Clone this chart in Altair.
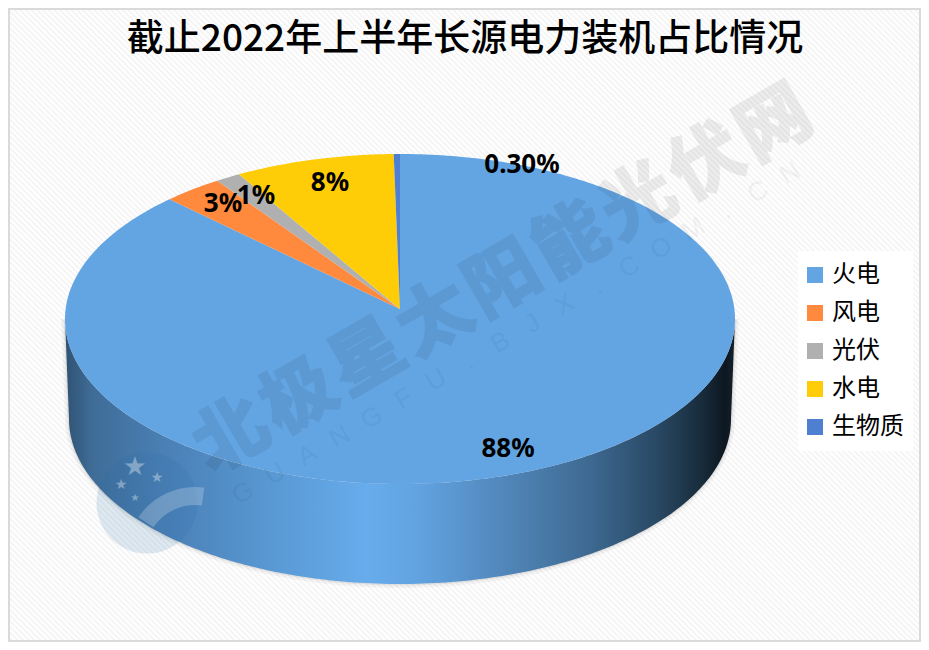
import math
import altair as alt

categories = ["火电", "风电", "光伏", "水电", "生物质"]
values = [88.1, 2.9, 1.2, 7.7, 0.3]
colors = ["#63A5E3", "#FF893C", "#B0B0B0", "#FFCC08", "#4E7FD0"]
label_texts = ["88%", "3%", "1%", "8%", "0.30%"]
title_text = "截止2022年上半年长源电力装机占比情况"
watermark_main = "北极星太阳能光伏网"
watermark_sub = "GUANGFU.BJX.COM.CN"

W, H = 913, 634
OFF = 8  # page margin
A, B = 335.0, 165.0
CX, CY = 400.0, 319.0
DEPTH = 100.0
A2 = 331.0


def feature(name, pts):
    ring = [[round(x, 5), round(y, 5)] for x, y in pts]
    if ring[0] != ring[-1]:
        ring.append(ring[0])
    return {"type": "Feature", "properties": {"name": name},
            "geometry": {"type": "Polygon", "coordinates": [ring]}}


def rim(t):
    return (math.sin(t), -math.cos(t) * B / A)


total = sum(values)
apex = (0.0, -10.0 / A)
slices = []
acc = 0.0
for name, v in zip(categories, values):
    t0 = acc / total * 2 * math.pi
    acc += v
    t1 = acc / total * 2 * math.pi
    n = max(2, int(v * 4))
    slices.append(feature(name, [apex] + [rim(t0 + (t1 - t0) * i / n) for i in range(n + 1)]))

side_pts = []
for i in range(181):
    t = math.radians(90 + i)
    side_pts.append(rim(t))
side_pts = side_pts[::-1]
for i in range(181):
    t = math.radians(90 + i)
    side_pts.append((math.sin(t) * A2 / A, -math.cos(t) * B / A + DEPTH / A))
side = [feature("side", side_pts)]

PROJ = dict(type="identity", scale=A, translate=[CX - OFF, CY - OFF])

# background hatch
hatch_rows = []
period = 5.7
x = -float(H)
while x < W:
    hatch_rows.append({"x": x, "x2": x + H, "y": 0, "y2": H})
    x += period
ax = alt.X("x:Q", scale=None, axis=None)
ay = alt.Y("y:Q", scale=None, axis=None)
hatch = alt.Chart(alt.Data(values=hatch_rows)).mark_rule(
    color="#F5F5F5", strokeWidth=2, clip=True
).encode(x=ax, x2="x2:Q", y=ay, y2="y2:Q")

# frame along the drawable edge
border_rows = [
    {"x": W - 1, "x2": W - 1, "y": 0, "y2": H},
    {"x": 0, "x2": W, "y": H - 1, "y2": H - 1},
    {"x": 1, "x2": 1, "y": 0, "y2": H},
    {"x": 0, "x2": W, "y": 1, "y2": 1},
]
border = alt.Chart(alt.Data(values=border_rows)).mark_rule(
    color="#DADADA", strokeWidth=2
).encode(x=ax, x2="x2:Q", y=ay, y2="y2:Q")

side_grad = alt.LinearGradient(
    gradient="linear", x1=0, x2=1, y1=0, y2=0,
    stops=[
        alt.GradientStop(offset=0.0, color="#2F5272"),
        alt.GradientStop(offset=0.04, color="#3F6C97"),
        alt.GradientStop(offset=0.15, color="#4A80B5"),
        alt.GradientStop(offset=0.3, color="#5897D2"),
        alt.GradientStop(offset=0.45, color="#67ACEC"),
        alt.GradientStop(offset=0.52, color="#62A4E2"),
        alt.GradientStop(offset=0.65, color="#5288BC"),
        alt.GradientStop(offset=0.78, color="#3E6A92"),
        alt.GradientStop(offset=0.88, color="#2A4A66"),
        alt.GradientStop(offset=0.95, color="#182C3C"),
        alt.GradientStop(offset=0.985, color="#0C1720"),
        alt.GradientStop(offset=1.0, color="#14222E"),
    ],
)
shadow1 = alt.Chart(alt.Data(values=side)).mark_geoshape(
    fill="#000000", fillOpacity=0.0, stroke="#000000", strokeOpacity=0.04, strokeWidth=8
).project(**PROJ)
shadow2 = alt.Chart(alt.Data(values=side)).mark_geoshape(
    fill="#000000", fillOpacity=0.0, stroke="#000000", strokeOpacity=0.07, strokeWidth=3
).project(**PROJ)
side_layer = alt.Chart(alt.Data(values=side)).mark_geoshape(
    fill=side_grad, strokeWidth=0
).project(**PROJ)

pie = alt.Chart(alt.Data(values=slices)).mark_geoshape(strokeWidth=0).encode(
    color=alt.Color(
        "properties.name:N",
        scale=alt.Scale(domain=categories, range=colors),
        sort=categories,
        legend=alt.Legend(
            title=None, orient="none", legendX=790, legendY=243,
            symbolType="square", symbolSize=256, symbolStrokeWidth=0, symbolOffset=-4,
            labelFont="Noto Sans CJK SC", labelFontSize=24, labelColor="#000000",
            labelOffset=5, rowPadding=8, symbolOpacity=1,
            fillColor="#FFFFFF", padding=9, labelLimit=200, clipHeight=30,
        ),
    )
).project(**PROJ)

# watermark
wm_rows = []
n = len(watermark_main)
x0, y0, x1, y1 = 232.0, 437.0, 775.0, 125.0
for i, ch in enumerate(watermark_main):
    f = i / (n - 1)
    wm_rows.append({"x": x0 + (x1 - x0) * f - OFF, "y": y0 + (y1 - y0) * f - OFF, "t": ch})
wm = alt.Chart(alt.Data(values=wm_rows)).mark_text(
    font="Noto Sans CJK SC", fontWeight="bold", fontSize=72, angle=330, opacity=0.065,
    color="#000000", stroke="#000000", strokeWidth=3, align="center", baseline="middle"
).encode(x=ax, y=ay, text="t:N")

sub_rows = []
m = len(watermark_sub)
for i, ch in enumerate(watermark_sub):
    f = i / (m - 1)
    sx = 243 + (790 - 243) * f
    sub_rows.append({"x": sx - OFF, "y": 493 - (sx - 243) * 0.585 - OFF, "t": ch})
wm2 = alt.Chart(alt.Data(values=sub_rows)).mark_text(
    font="Liberation Sans", fontSize=26, angle=330, opacity=0.04,
    color="#000000", align="center", baseline="middle"
).encode(x=ax, y=ay, text="t:N")

# logo
logo_rows = [{"x": 147 - OFF, "y": 503 - OFF}]
logo = alt.Chart(alt.Data(values=logo_rows)).mark_point(
    filled=True, shape="circle", size=10200, color="#2B6CA8", opacity=0.15
).encode(x=ax, y=ay)
swoosh_rows = [{"x": 195 - OFF, "y": 555 - OFF}]
swoosh = alt.Chart(alt.Data(values=swoosh_rows)).mark_arc(
    theta=5.3, theta2=6.42, innerRadius=50, outerRadius=68, fill="#FFFFFF", opacity=0.22
).encode(x=ax, y=ay)
star_rows = [
    {"x": 135 - OFF, "y": 467 - OFF, "s": 26},
    {"x": 157 - OFF, "y": 478 - OFF, "s": 14},
    {"x": 121 - OFF, "y": 485 - OFF, "s": 14},
    {"x": 135 - OFF, "y": 498 - OFF, "s": 10},
]
stars = alt.Chart(alt.Data(values=star_rows)).mark_text(
    text="★", color="#FFFFFF", opacity=0.35, font="DejaVu Sans", baseline="middle"
).encode(x=ax, y=ay, size=alt.Size("s:Q", scale=None, legend=None))

# labels
lab_pos = [(508, 449), (223, 204), (256, 196), (330, 183), (522, 165)]
lab_rows = [{"x": p[0] - OFF, "y": p[1] - OFF, "t": t} for p, t in zip(lab_pos, label_texts)]
labels = alt.Chart(alt.Data(values=lab_rows)).mark_text(
    font="Noto Sans", fontWeight="bold", fontSize=26, color="#000000",
    align="center", baseline="middle"
).encode(x=ax, y=ay, text="t:N")

title_rows = [{"x": 465 - OFF, "y": 40 - OFF, "t": title_text}]
title = alt.Chart(alt.Data(values=title_rows)).mark_text(
    font="Noto Sans CJK SC", fontSize=37, fontWeight=500, color="#000000",
    align="center", baseline="middle", limit=0
).encode(x=ax, y=ay, text="t:N")

chart = alt.layer(
    hatch, border, shadow1, shadow2, side_layer, pie, logo, swoosh, stars, wm, wm2, labels, title
).properties(
    width=W, height=H, padding=0,
    autosize=alt.AutoSizeParams(type="none"),
).configure_view(stroke=None)

chart.save("out.html", embed_options={"renderer": "svg", "actions": False})
